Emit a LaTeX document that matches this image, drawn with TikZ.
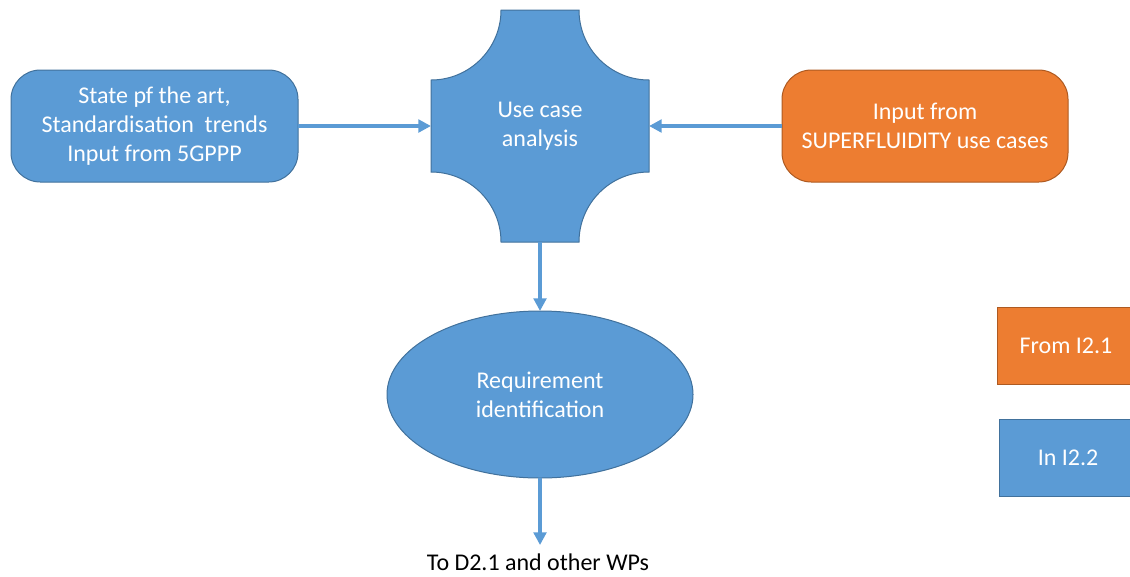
\documentclass[tikz,border=0pt]{standalone}
\usepackage{fontspec}
\setmainfont{Carlito}
\usetikzlibrary{arrows.meta,shapes.geometric}
\definecolor{bfill}{HTML}{5B9BD5}
\definecolor{bline}{HTML}{41719C}
\definecolor{ofill}{HTML}{ED7D31}
\definecolor{oline}{HTML}{AE5A21}
\tikzset{
  base/.style={inner sep=0pt, outer sep=0pt, line width=0.75pt, text=white, align=center,
    font=\fontsize{18pt}{21.6pt}\selectfont},
  bluebox/.style={base, draw=bline, fill=bfill},
  orangebox/.style={base, draw=oline, fill=ofill},
  arr/.style={draw=bfill, line width=3pt, -{Triangle[length=9.5pt,width=9.5pt]}},
}
\begin{document}
\begin{tikzpicture}[x=0.75pt,y=-0.75pt]
\useasboundingbox (0,0) rectangle (1130,576);
% plaque shape
\draw[line width=0.75pt, draw=bline, fill=bfill]
  (501,10) -- (579,10) .. controls (579,48.7) and (610.3,80) .. (649,80)
  -- (649,172) .. controls (610.3,172) and (579,203.3) .. (579,242)
  -- (501,242) .. controls (501,203.3) and (469.7,172) .. (431,172)
  -- (431,80) .. controls (469.7,80) and (501,48.7) .. (501,10) -- cycle;
\node[base, minimum width={218*0.75pt}, minimum height={232*0.75pt}] (uc) at (540,126) {Use case\\analysis};
% left box
\node[bluebox, rounded corners=22pt, minimum width={287*0.75pt}, minimum height={112*0.75pt}] (lb) at (154.5,126)
  {State pf the art,\\Standardisation~ trends\\Input from 5GPPP};
% right box
\node[orangebox, rounded corners=22pt, minimum width={286*0.75pt}, minimum height={112*0.75pt}] (rb) at (925,126)
  {Input from\\SUPERFLUIDITY use cases};
% ellipse
\node[bluebox, ellipse, minimum width={306*0.75pt}, minimum height={167*0.75pt}] (req) at (540,394.5)
  {Requirement\\identification};
% output text
\coordinate (outend) at (540,545);
\node[base, text=black] (out) at (538,562) {To D2.1 and other WPs};
% legend
\node[orangebox, minimum width={138*0.75pt}, minimum height={77*0.75pt}] (leg1) at (1066,345.5) {From I2.1};
\node[bluebox, minimum width={138*0.75pt}, minimum height={77*0.75pt}] (leg2) at (1068,457.5) {In I2.2};
% connectors
\draw[arr] (lb.east) -- (uc.west);
\draw[arr] (rb.west) -- (uc.east);
\draw[arr] (uc.south) -- (req.north);
\draw[arr] (req.south) -- (outend);
\end{tikzpicture}
\end{document}
